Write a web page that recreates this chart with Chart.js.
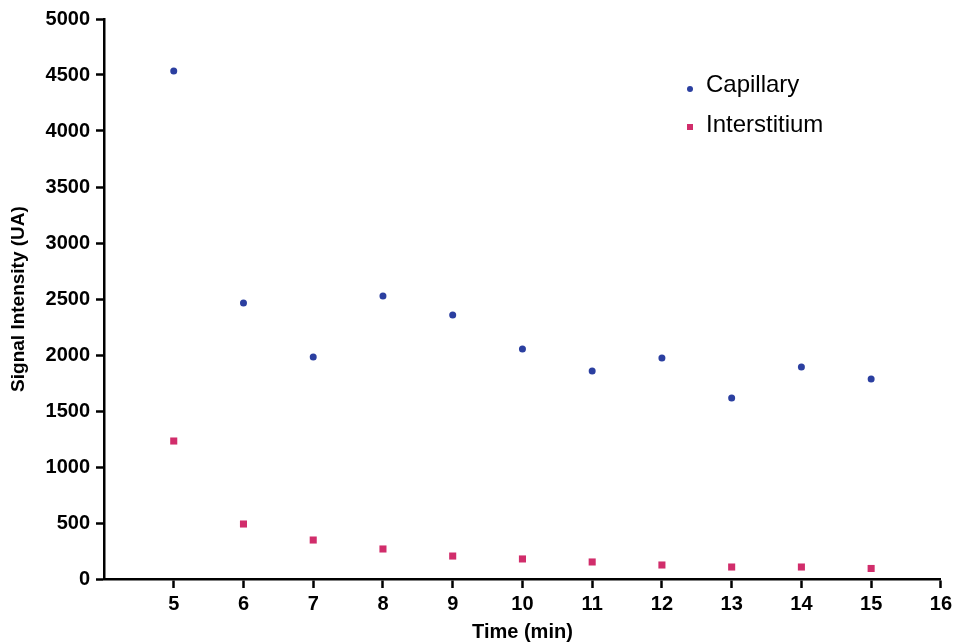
<!DOCTYPE html>
<html>
<head>
<meta charset="utf-8">
<script src="https://cdn.jsdelivr.net/npm/chart.js@4/dist/chart.umd.min.js"></script>
<style>
  html, body { margin: 0; padding: 0; background: #fff; }
  #wrap { width: 956px; height: 644px; }
</style>
</head>
<body>
<div id="wrap"><canvas id="myChart" width="956" height="644"></canvas></div>
<script>
// time points (min)
var times = [5, 6, 7, 8, 9, 10, 11, 12, 13, 14, 15];
// signal values
var capillary = [4536, 2464, 1982, 2527, 2357, 2054, 1857, 1973, 1616, 1893, 1786];
var interstitium = [1232, 491, 348, 268, 205, 179, 152, 125, 107, 107, 94];
var xTicks = [5, 6, 7, 8, 9, 10, 11, 12, 13, 14, 15, 16];
var yTicks = [0, 500, 1000, 1500, 2000, 2500, 3000, 3500, 4000, 4500, 5000];

var blue = '#2b3fa0';
var pink = '#d12d6b';

function toPoints(vals) {
  return times.map(function (t, i) { return { x: t, y: vals[i] }; });
}

// legend drawn inside the plot, top right
var innerLegend = {
  id: 'innerLegend',
  afterDraw: function (chart) {
    var ctx = chart.ctx;
    ctx.save();
    ctx.font = '24px "Liberation Sans", Arial, sans-serif';
    ctx.textBaseline = 'middle';
    ctx.textAlign = 'left';
    // Capillary
    ctx.beginPath();
    ctx.fillStyle = blue;
    ctx.arc(690, 89, 3, 0, Math.PI * 2);
    ctx.fill();
    ctx.fillStyle = '#000';
    ctx.fillText('Capillary', 706, 85);
    // Interstitium
    ctx.fillStyle = pink;
    ctx.fillRect(687, 124, 6, 6);
    ctx.fillStyle = '#000';
    ctx.fillText('Interstitium', 706, 125);
    ctx.restore();
  }
};

var tickFont = { family: '"Liberation Sans", Arial, sans-serif', size: 20, weight: 'bold' };
var xTitleFont = { family: '"Liberation Sans", Arial, sans-serif', size: 20, weight: 'bold' };
var yTitleFont = { family: '"Liberation Sans", Arial, sans-serif', size: 19, weight: 'bold' };

var ctx = document.getElementById('myChart').getContext('2d');
var chart = new Chart(ctx, {
  type: 'scatter',
  data: {
    datasets: [{
      label: 'Capillary',
      data: toPoints(capillary),
      pointStyle: 'circle',
      pointRadius: 3.5,
      backgroundColor: blue,
      borderColor: blue,
      borderWidth: 0
    }, {
      label: 'Interstitium',
      data: toPoints(interstitium),
      pointStyle: 'rect',
      pointRadius: 5,
      backgroundColor: pink,
      borderColor: pink,
      borderWidth: 0
    }]
  },
  options: {
    responsive: false,
    animation: false,
    layout: { padding: { left: 0, right: 10, top: 19, bottom: 0 } },
    plugins: {
      legend: { display: false },
      tooltip: { enabled: false }
    },
    scales: {
      x: {
        type: 'linear',
        min: 4,
        max: 16,
        afterBuildTicks: function (scale) {
          scale.ticks = xTicks.map(function (v) { return { value: v }; });
        },
        afterFit: function (scale) { scale.height = 65; },
        grid: {
          display: true,
          drawOnChartArea: false,
          drawTicks: true,
          tickLength: 9,
          tickWidth: 2.5,
          tickColor: '#000'
        },
        border: { display: true, color: '#000', width: 2.5 },
        ticks: {
          color: '#000',
          font: tickFont,
          padding: 4,
          maxRotation: 0,
          autoSkip: false,
          callback: function (v) { return String(v); }
        },
        title: {
          display: true,
          text: 'Time (min)',
          color: '#000',
          font: xTitleFont,
          padding: { top: 0, bottom: 0 }
        }
      },
      y: {
        type: 'linear',
        min: 0,
        max: 5000,
        afterBuildTicks: function (scale) {
          scale.ticks = yTicks.map(function (v) { return { value: v }; });
        },
        afterFit: function (scale) { scale.width = 104; },
        grid: {
          display: true,
          drawOnChartArea: false,
          drawTicks: true,
          tickLength: 8,
          tickWidth: 2.5,
          tickColor: '#000'
        },
        border: { display: true, color: '#000', width: 2.5 },
        ticks: {
          color: '#000',
          font: tickFont,
          padding: 6,
          autoSkip: false,
          callback: function (v) { return String(v); }
        },
        title: {
          display: true,
          text: 'Signal Intensity (UA)',
          color: '#000',
          font: yTitleFont,
          padding: { top: 7, bottom: 0 }
        }
      }
    }
  },
  plugins: [innerLegend]
});
</script>
</body>
</html>
